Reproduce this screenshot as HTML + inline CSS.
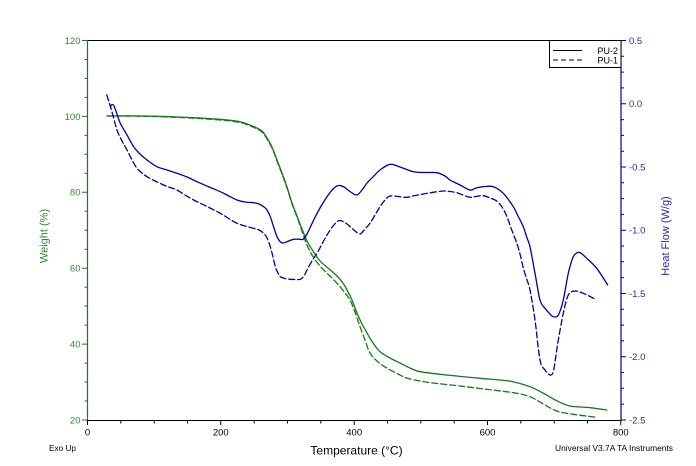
<!DOCTYPE html>
<html><head><meta charset="utf-8"><style>
html,body{margin:0;padding:0;background:#fff;}
svg{display:block;font-family:"Liberation Sans",Arial,sans-serif;}
</style></head><body>
<svg id="chart" width="696" height="466" viewBox="0 0 696 466" xmlns="http://www.w3.org/2000/svg">
<rect width="696" height="466" fill="#fff"/>
<!-- frame -->
<line x1="87.5" y1="40.5" x2="621" y2="40.5" stroke="#000" stroke-width="1"/>
<line x1="87.5" y1="420.5" x2="621" y2="420.5" stroke="#000" stroke-width="1"/>
<line x1="87.5" y1="40" x2="87.5" y2="421" stroke="#167a16" stroke-width="1.2"/>
<line x1="621" y1="40" x2="621" y2="421" stroke="#000090" stroke-width="1.2"/>
<!-- legend -->
<rect x="549.5" y="40.5" width="71.5" height="27" fill="#fff" stroke="#000" stroke-width="1"/>
<line x1="553" y1="50.5" x2="582" y2="50.5" stroke="#000" stroke-width="1"/>
<line x1="553" y1="60" x2="583" y2="60" stroke="#000" stroke-width="1" stroke-dasharray="5,3"/>
<text x="597.5" y="54" font-size="9" fill="#000">PU-2</text>
<text x="597.5" y="63.5" font-size="9" fill="#000">PU-1</text>
<!-- curves -->
<g id="curves" fill="none" stroke-width="1.3" stroke-linejoin="round" stroke-linecap="round">
<polyline stroke="#167a16" points="107,116 147,116 190,117.5 220,119.3 240,121.7 254,126.7 262,131 267,138 272,147 277,160 282,173 287,187 292,203 297,216 302,229 307,241 313,251 320,261 328,268 337,276 343,283 347,290 352,300 357,313 362,324 367,333 373,343 380,351.7 390,358 400,363 410,368 420,371.7 446.7,375 480,378.3 500,380 513,381.7 530,386.7 543,393 556.7,400.7 570,406 590,407.7 606.7,410"/>
<polyline stroke="#167a16" stroke-dasharray="6,3" points="107,116 147,116.3 190,118 220,120 240,122.5 254,127.5 262,132 267,139 272,148 277,161 282,174 287,188 292,204 297,217 302,231 307,245 313,256.7 320,266 326.7,273 333,279 340,286.7 345,293 350,300 355,312 360,326.7 365,340 370,353 378,362 386.7,368 396,373 406.7,378 420,381 433,383 460,386 480,388.5 513.3,392.7 530,396.7 543.3,404 556.7,411 573.3,414.3 596.7,417.3"/>
<polyline stroke="#0000a0" points="110.7,108 111,105.5 112.5,104.5 114,106 117,114 120.3,123.3 127,135 133.7,146.7 140,154 147,160 157,166.7 167,170 177,173.3 187,177 197,181.7 208,186.5 220.3,191.7 228,195.5 237,200 245,202 253.7,202.7 259,204 263.7,206.7 267,210 270.3,216.7 274,228 277,236.7 280,241.5 283,243 287,241.7 293.7,239.3 300,239.3 303,239.3 307,234 313.7,220 320,208 327,196.7 333,189 338.5,185.5 344,187 350,191.5 356.7,195 362,190 367,183 373.3,176.7 380,170 390,164.3 400,167 413.3,171.7 425,172.5 436.7,172.7 445,176 450,180 460,185 470,190 476,188 483.3,186.7 493.3,186.7 503.3,193.3 513.3,206.7 518,216 523.3,226.7 527,238 530,246.7 535,273.3 540,300 545,308.3 549,313 553.3,316.7 558.3,315 563.3,300 568.3,273.3 573.3,256.7 578.3,252.3 582,254 586.7,258.3 596.7,268.3 607.7,285"/>
<polyline stroke="#0000a0" stroke-dasharray="6,3" points="106.7,95 109,102 112,112 117,130 122,141 127,150 132,160 137,168.3 142,173 147,176.7 155,181 163.7,185 170,187.5 177,190 185,195 193.7,200 207,206.5 220.3,213.3 228,218 237,223.3 245,226 253.7,228.3 259,230 263.7,233.3 267,238 270.3,246.7 273,257 275.3,266.7 278,273 280.3,276.7 285,278.5 290.3,279.3 295,279.5 300.3,279.3 304,276 307,270 312,261 317,253.3 322,244 327,235 333,226 338.7,220.7 344,222 350.3,226.7 355,231 360,234 365,229 370,223.3 375,215 380,206.7 385,200 390,196 398,196.5 406.7,197.3 415,195.5 423.3,194 433,192.3 443.3,191 450,191.5 456.7,192.7 463,195 470,197.3 476,196.5 483.3,195.7 490,198 496.7,201 502,207 506.7,216 511,228 516.7,243 520,254 523.3,268 527,280 530,290 535,320 540,360 545,370 550,375 553.3,371.7 556,355 558.3,340 563.3,313.3 568.3,295 575,291 583.3,293.3 589,296 595,299"/>
</g>
<!-- left tick labels -->
<g font-size="9.5" fill="#2f8a2f" text-anchor="end">
<text x="80.5" y="43.9">120</text>
<text x="80.5" y="119.8">100</text>
<text x="80.5" y="195.7">80</text>
<text x="80.5" y="271.6">60</text>
<text x="80.5" y="347.5">40</text>
<text x="80.5" y="423.4">20</text>
</g>
<!-- right tick labels -->
<g font-size="9.5" fill="#2a2aa8">
<text x="629" y="43.9">0.5</text>
<text x="629" y="107.1">0.0</text>
<text x="629" y="170.4">-0.5</text>
<text x="629" y="233.6">-1.0</text>
<text x="629" y="296.9">-1.5</text>
<text x="629" y="360.1">-2.0</text>
<text x="629" y="423.4">-2.5</text>
</g>
<!-- bottom tick labels -->
<g font-size="9.5" fill="#000" text-anchor="middle">
<text x="87.5" y="435.5">0</text>
<text x="220.8" y="435.5">200</text>
<text x="354.2" y="435.5">400</text>
<text x="487.5" y="435.5">600</text>
<text x="620.8" y="435.5">800</text>
</g>
<!-- axis titles -->
<text transform="translate(47.5,236) rotate(-90)" font-size="11" fill="#2f8a2f" text-anchor="middle">Weight (%)</text>
<text transform="translate(669,236) rotate(-90)" font-size="11" fill="#2a2aa8" text-anchor="middle">Heat Flow (W/g)</text>
<text x="356.5" y="454.5" font-size="12" fill="#000" text-anchor="middle">Temperature (°C)</text>
<text x="49" y="451" font-size="8.5" fill="#000" textLength="27" lengthAdjust="spacingAndGlyphs">Exo Up</text>
<text x="555" y="451" font-size="8.5" fill="#000" textLength="118" lengthAdjust="spacingAndGlyphs">Universal V3.7A TA Instruments</text>
<!-- ticks -->
<g stroke="#167a16" stroke-width="1">
<path d="M82 40.5H87.5M84.5 59.5H87.5M84.5 78.4H87.5M84.5 97.4H87.5M82 116.4H87.5M84.5 135.4H87.5M84.5 154.3H87.5M84.5 173.3H87.5M82 192.3H87.5M84.5 211.3H87.5M84.5 230.2H87.5M84.5 249.2H87.5M82 268.2H87.5M84.5 287.2H87.5M84.5 306.1H87.5M84.5 325.1H87.5M82 344.1H87.5M84.5 363.1H87.5M84.5 382H87.5M84.5 401H87.5M82 420H87.5"/>
</g>
<g stroke="#000090" stroke-width="1">
<path d="M621 40.5H626M621 56.3H624M621 72.1H624M621 87.9H624M621 103.7H626M621 119.6H624M621 135.4H624M621 151.2H624M621 167H626M621 182.8H624M621 198.6H624M621 214.4H624M621 230.2H626M621 246H624M621 261.8H624M621 277.6H624M621 293.5H626M621 309.3H624M621 325.1H624M621 340.9H624M621 356.7H626M621 372.5H624M621 388.3H624M621 404.1H624M621 420H626"/>
</g>
<g stroke="#000" stroke-width="1">
<path d="M87.5 420V425M120.8 420V423.5M154.2 420V423.5M187.5 420V423.5M220.8 420V425M254.2 420V423.5M287.5 420V423.5M320.8 420V423.5M354.2 420V425M387.5 420V423.5M420.8 420V423.5M454.2 420V423.5M487.5 420V425M520.8 420V423.5M554.2 420V423.5M587.5 420V423.5M620.8 420V425"/>
</g>
</svg>
<script>
(function(){
  try{
    var ns="http://www.w3.org/2000/svg";
    var pls=document.querySelectorAll('#curves polyline');
    for(var k=0;k<pls.length;k++){
      var pl=pls[k];
      var raw=pl.getAttribute('points').trim().split(/\s+/);
      var p=[];
      for(var i=0;i<raw.length;i++){var a=raw[i].split(',');p.push([+a[0],+a[1]]);}
      if(p.length<3)continue;
      var d="M"+p[0][0]+" "+p[0][1];
      for(var i=0;i<p.length-1;i++){
        var p0=p[i-1]||p[i],p1=p[i],p2=p[i+1],p3=p[i+2]||p[i+1];
        var t=0.5/3*1.0;
        var c1x=p1[0]+(p2[0]-p0[0])/6,c1y=p1[1]+(p2[1]-p0[1])/6;
        var c2x=p2[0]-(p3[0]-p1[0])/6,c2y=p2[1]-(p3[1]-p1[1])/6;
        d+=" C"+c1x.toFixed(2)+" "+c1y.toFixed(2)+" "+c2x.toFixed(2)+" "+c2y.toFixed(2)+" "+p2[0]+" "+p2[1];
      }
      var path=document.createElementNS(ns,'path');
      path.setAttribute('d',d);
      path.setAttribute('stroke',pl.getAttribute('stroke'));
      if(pl.getAttribute('stroke-dasharray'))path.setAttribute('stroke-dasharray',pl.getAttribute('stroke-dasharray'));
      pl.parentNode.replaceChild(path,pl);
    }
  }catch(e){}
})();
</script>
</body></html>
